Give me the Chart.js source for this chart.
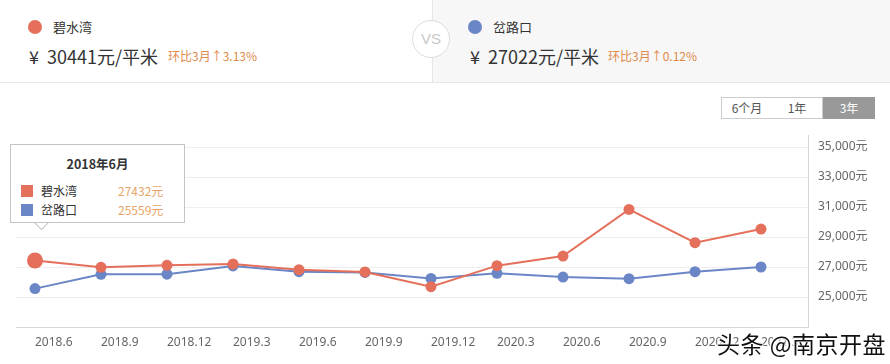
<!DOCTYPE html>
<html>
<head>
<meta charset="utf-8">
<script src="https://cdn.jsdelivr.net/npm/chart.js@4/dist/chart.umd.min.js"></script>
<style>
  body { margin: 0; background: #fff; font-family: "Noto Sans CJK SC", "Noto Sans", sans-serif; }
  #wrap { position: relative; width: 890px; height: 364px; overflow: hidden; }
  #chart { position: absolute; left: 0; top: 0; }
  .abs { position: absolute; white-space: nowrap; }
  #rightBg { left: 432px; top: 0; width: 458px; height: 82px; background: #f7f7f7; border-left: 1px solid #e6e6e6; }
  #hdrLine { left: 0; top: 82px; width: 890px; height: 0; border-top: 1px solid #e8e8e8; }
  .dot { width: 14px; height: 14px; border-radius: 50%; }
  .name { font-size: 13px; color: #333; line-height: 16px; }
  .price { font-size: 18px; color: #333; line-height: 24px; }
  .chg { font-size: 12px; color: #e0894a; line-height: 14px; }
  #vs { left: 412px; top: 20px; width: 36px; height: 36px; border-radius: 50%; border: 1px solid #ddd; background: #fff;
        color: #c8c8c8; font-size: 15px; line-height: 36px; text-align: center; font-family: "Liberation Sans", sans-serif; }
  .btn { top: 97px; height: 20px; width: 50px; border: 1px solid #ccc; font-size: 12px; line-height: 20px; text-align: center; color: #555; background: #fff; }
  #tip { width: 175px; height: 79px; background: #fff; border: 1px solid #c4c4c4; box-sizing: border-box; font-size: 12px; color: #333; }
  #tip .t { position: absolute; left: 0; width: 100%; top: 9px; text-align: center; font-weight: bold; font-size: 12.5px; }
  #tip .sq { position: absolute; left: 10px; width: 12px; height: 12px; }
  #tip .n { position: absolute; left: 30px; }
  #tip .v { position: absolute; left: 107px; color: #e8a466; }
  #caret { width: 10px; height: 10px; background: #fff; border-right: 1px solid #c4c4c4; border-bottom: 1px solid #c4c4c4; transform: rotate(45deg); }
  #wm { left: 717px; top: 326px; font-size: 23px; color: #111; letter-spacing: 0.5px;
        text-shadow: 0 0 2px #fff, 0 0 2px #fff, 0 0 3px #fff, 1px 1px 1px #fff, -1px -1px 1px #fff; }
</style>
</head>
<body>
<div id="wrap">
  <div class="abs" id="rightBg"></div>
  <div class="abs" id="hdrLine"></div>

  <div class="abs dot" style="left:28px;top:20px;background:#e4705c"></div>
  <div class="abs name" style="left:53px;top:19px">碧水湾</div>
  <div class="abs price" style="left:29px;top:44px">¥&nbsp; 30441元/平米</div>
  <div class="abs chg" style="left:168px;top:49px">环比3月↑3.13%</div>

  <div class="abs dot" style="left:468px;top:20px;background:#6b86c6"></div>
  <div class="abs name" style="left:493px;top:19px">岔路口</div>
  <div class="abs price" style="left:470px;top:44px">¥&nbsp; 27022元/平米</div>
  <div class="abs chg" style="left:608px;top:49px">环比3月↑0.12%</div>

  <div class="abs" id="vs">VS</div>

  <div class="abs btn" style="left:721px">6个月</div>
  <div class="abs btn" style="left:772px;border-left:none">1年</div>
  <div class="abs btn" style="left:823px;border-color:#999;background:#999;color:#fff">3年</div>

  <canvas id="chart" width="890" height="364"></canvas>

  <div class="abs" id="caret"></div>
  <div class="abs" id="tip"></div>
  <div class="abs" id="wm">头条 @南京开盘</div>
</div>

<script>
// 数据
var months = ['2018.6', '2018.9', '2018.12', '2019.3', '2019.6', '2019.9', '2019.12', '2020.3', '2020.6', '2020.9', '2020.12', '2021.3'];
var bishuiwan = [27432, 26980, 27110, 27200, 26820, 26670, 25690, 27090, 27730, 30840, 28620, 29530];
var chalukou = [25559, 26510, 26520, 27070, 26690, 26640, 26240, 26580, 26330, 26220, 26690, 27000];
var yTicks = [25000, 27000, 29000, 31000, 33000, 35000];
var seriesNames = ['碧水湾', '岔路口'];
var seriesColors = ['#e4705c', '#6b86c6'];
var activeIndex = 0;

function toPoints(arr) {
    return arr.map(function (v, i) { return { x: i, y: v }; });
}

// 鼠标悬停的提示框，用 HTML 画
var tipPlugin = {
    id: 'tipPlugin',
    afterDraw: function (chart) {
        var pt = chart.getDatasetMeta(0).data[activeIndex];
        if (!pt) return;
        var tip = document.getElementById('tip');
        var caret = document.getElementById('caret');
        var parts = months[activeIndex].split('.');
        var html = '<div class="t">' + parts[0] + '年' + parts[1] + '月</div>';
        var vals = [bishuiwan[activeIndex], chalukou[activeIndex]];
        for (var i = 0; i < 2; i++) {
            var top = 39 + i * 19;
            html += '<div class="sq" style="top:' + (top + 1) + 'px;background:' + seriesColors[i] + '"></div>';
            html += '<div class="n" style="top:' + (top - 2) + 'px">' + seriesNames[i] + '</div>';
            html += '<div class="v" style="top:' + (top - 2) + 'px">' + vals[i] + '元</div>';
        }
        tip.innerHTML = html;
        tip.style.left = (pt.x - 25) + 'px';
        tip.style.top = (pt.y - 117) + 'px';
        caret.style.left = (pt.x + 1) + 'px';
        caret.style.top = (pt.y - 44) + 'px';
    }
};

var ctx = document.getElementById('chart').getContext('2d');
new Chart(ctx, {
    type: 'line',
    data: {
        datasets: [
            {
                label: seriesNames[0],
                data: toPoints(bishuiwan),
                borderColor: seriesColors[0],
                backgroundColor: seriesColors[0],
                pointBackgroundColor: seriesColors[0],
                pointBorderWidth: 0,
                pointRadius: bishuiwan.map(function (v, i) { return i === activeIndex ? 8 : 5.5; }),
                borderWidth: 2,
                tension: 0
            },
            {
                label: seriesNames[1],
                data: toPoints(chalukou),
                borderColor: seriesColors[1],
                backgroundColor: seriesColors[1],
                pointBackgroundColor: seriesColors[1],
                pointBorderWidth: 0,
                pointRadius: 5.5,
                borderWidth: 2,
                tension: 0
            }
        ]
    },
    options: {
        responsive: false,
        animation: false,
        events: [],
        layout: { padding: { left: 16, top: 135, right: 0, bottom: 0 } },
        plugins: { legend: { display: false }, tooltip: { enabled: false } },
        scales: {
            x: {
                type: 'linear',
                min: -19 / 66,
                max: 11 + 47 / 66,
                afterBuildTicks: function (s) { s.ticks = months.map(function (m, i) { return { value: i }; }); },
                afterFit: function (s) { s.height = 37; },
                grid: { display: false, drawTicks: false },
                border: { display: true, color: '#d6d6d6', width: 1 },
                ticks: {
                    autoSkip: false,
                    maxRotation: 0,
                    align: 'start',
                    padding: 8,
                    color: '#666',
                    font: { size: 12, family: '"Noto Sans", "Noto Sans CJK SC", sans-serif' },
                    callback: function (v) { return months[v]; }
                }
            },
            y: {
                position: 'right',
                min: 23000,
                max: 35800,
                afterBuildTicks: function (s) { s.ticks = yTicks.map(function (v) { return { value: v }; }); },
                afterFit: function (s) { s.width = 82; },
                grid: { color: '#eeeeee', drawTicks: false },
                border: { display: true, color: '#d6d6d6', width: 1 },
                ticks: {
                    padding: 10,
                    color: '#666',
                    font: { size: 12, family: '"Noto Sans", "Noto Sans CJK SC", sans-serif' },
                    callback: function (v) { return v.toLocaleString('en-US') + '元'; }
                }
            }
        }
    },
    plugins: [tipPlugin]
});
</script>
</body>
</html>
